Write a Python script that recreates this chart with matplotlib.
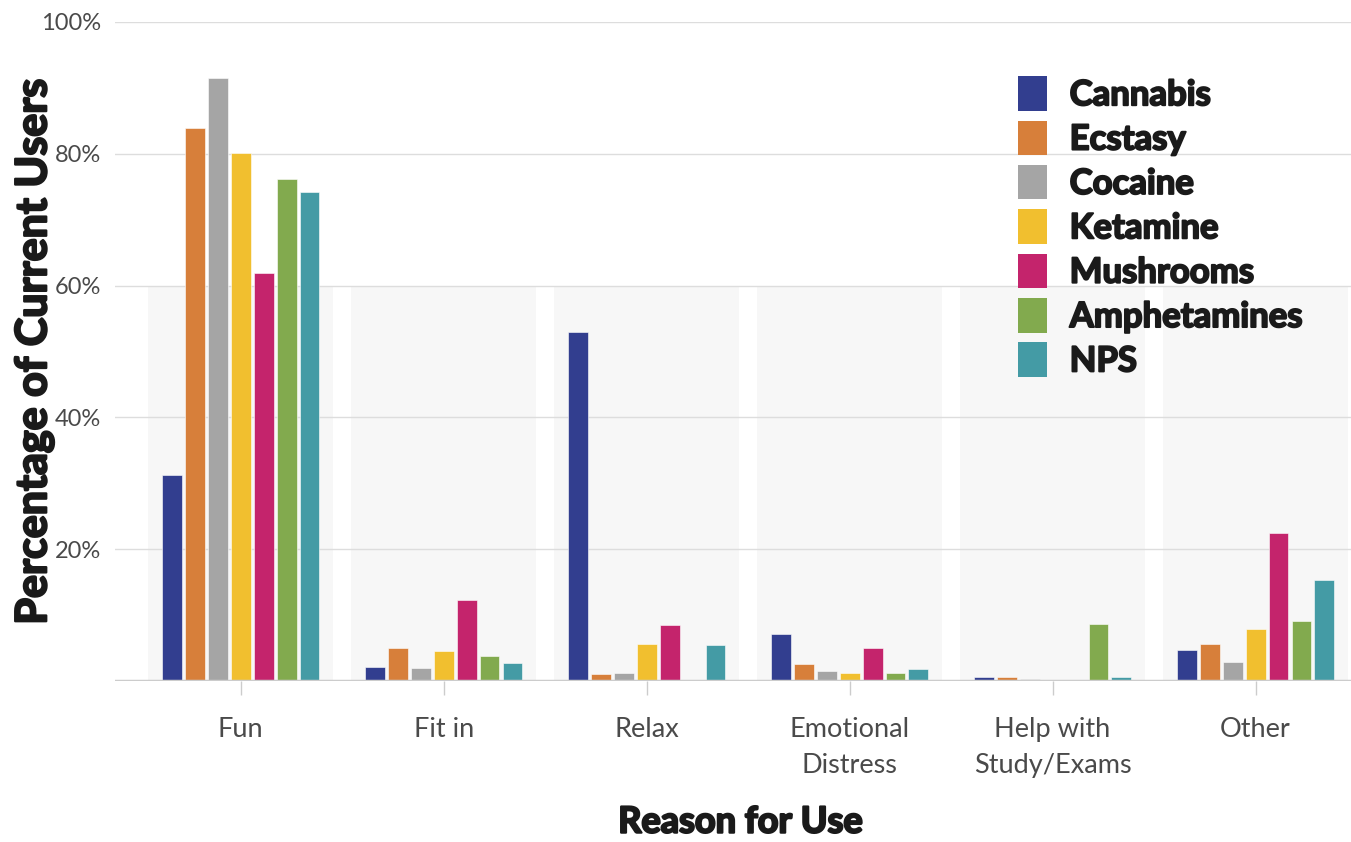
import numpy as np
import matplotlib.pyplot as plt
from matplotlib.patches import Patch
import matplotlib.patheffects as pe

# data (percent of current users)
reasons = ["Fun", "Fit in", "Relax", "Emotional\nDistress", "Help with\nStudy/Exams", "Other"]
drugs = ["Cannabis", "Ecstasy", "Cocaine", "Ketamine", "Mushrooms", "Amphetamines", "NPS"]
cannabis = [31.3, 2.1, 53.0, 7.1, 0.6, 4.8]
ecstasy = [83.9, 5.0, 1.1, 2.6, 0.6, 5.6]
cocaine = [91.5, 2.0, 1.2, 1.5, 0.4, 2.9]
ketamine = [80.1, 4.6, 5.6, 1.2, 0.0, 7.9]
mushrooms = [61.9, 12.3, 8.5, 5.0, 0.0, 22.5]
amphetamines = [76.2, 3.8, 0.0, 1.2, 8.6, 9.2]
nps = [74.2, 2.7, 5.5, 1.9, 0.6, 15.3]
colors = ["#323E8F", "#D77F3A", "#A5A5A5", "#F1BF2F", "#C4246C", "#82AA4E", "#449BA5"]

series = [cannabis, ecstasy, cocaine, ketamine, mushrooms, amphetamines, nps]

fig = plt.figure(figsize=(13.51, 8.42), dpi=100)
ax = fig.add_axes([0.085, 0.191, 0.915, 0.783])

x = np.arange(len(reasons))
pitch = 0.113
width = 0.098

# faint panels behind each group
for xi in x:
    ax.axvspan(xi - 0.455, xi + 0.455, ymin=0, ymax=0.6, color="#f7f7f7", zorder=0, lw=0)

for i, (name, vals) in enumerate(zip(drugs, series)):
    ax.bar(x + (i - 3) * pitch, vals, width=width, color=colors[i],
           edgecolor="white", linewidth=0.4, label=name, zorder=3)

ax.set_ylim(0, 100)
ax.set_xlim(-0.62, 5.47)
ax.set_yticks([0, 20, 40, 60, 80, 100])
ax.set_yticklabels(["", "20%", "40%", "60%", "80%", "100%"])
ax.yaxis.grid(True, color="#dddddd", linewidth=1, zorder=1)
ax.axhline(0, color="#cccccc", linewidth=2.5, zorder=4)
ax.set_xticks(x)
ax.set_xticklabels(reasons, linespacing=1.55)
for s in ax.spines.values():
    s.set_visible(False)
ax.tick_params(axis="y", length=0, pad=10, labelsize=17, labelcolor="#4a4a4a")
ax.tick_params(axis="x", length=10, color="#cccccc", width=1, pad=16,
               labelsize=19.5, labelcolor="#4a4a4a")
for lab in ax.get_xticklabels() + ax.get_yticklabels():
    lab.set_fontfamily("Lato")
for t in ax.xaxis.get_ticklines():
    t.set_linestyle((0, (1, 1)))

heavy = [pe.withStroke(linewidth=1.6, foreground="#1a1a1a")]
fig.text(0.025, 0.582, "Percentage of Current Users", rotation=90, ha="center", va="center",
         fontsize=31, fontfamily="Lato", fontweight="bold", color="#1a1a1a", path_effects=heavy)
fig.text(0.548, 0.004, "Reason for Use", ha="center", va="bottom",
         fontsize=26, fontfamily="Lato", fontweight="bold", color="#1a1a1a", path_effects=heavy)

handles = [Patch(facecolor=c, label=d) for c, d in zip(colors, drugs)]
leg = ax.legend(handles=handles, loc="upper left", bbox_to_anchor=(0.705, 0.965),
                frameon=False, prop={"family": "Lato", "weight": "bold", "size": 25},
                handlelength=0.85, handleheight=1.15, handletextpad=0.65, labelspacing=0.27)
for t in leg.get_texts():
    t.set_color("#1a1a1a")
    t.set_path_effects([pe.withStroke(linewidth=1.4, foreground="#1a1a1a")])

fig.savefig("out.png", dpi=100)
